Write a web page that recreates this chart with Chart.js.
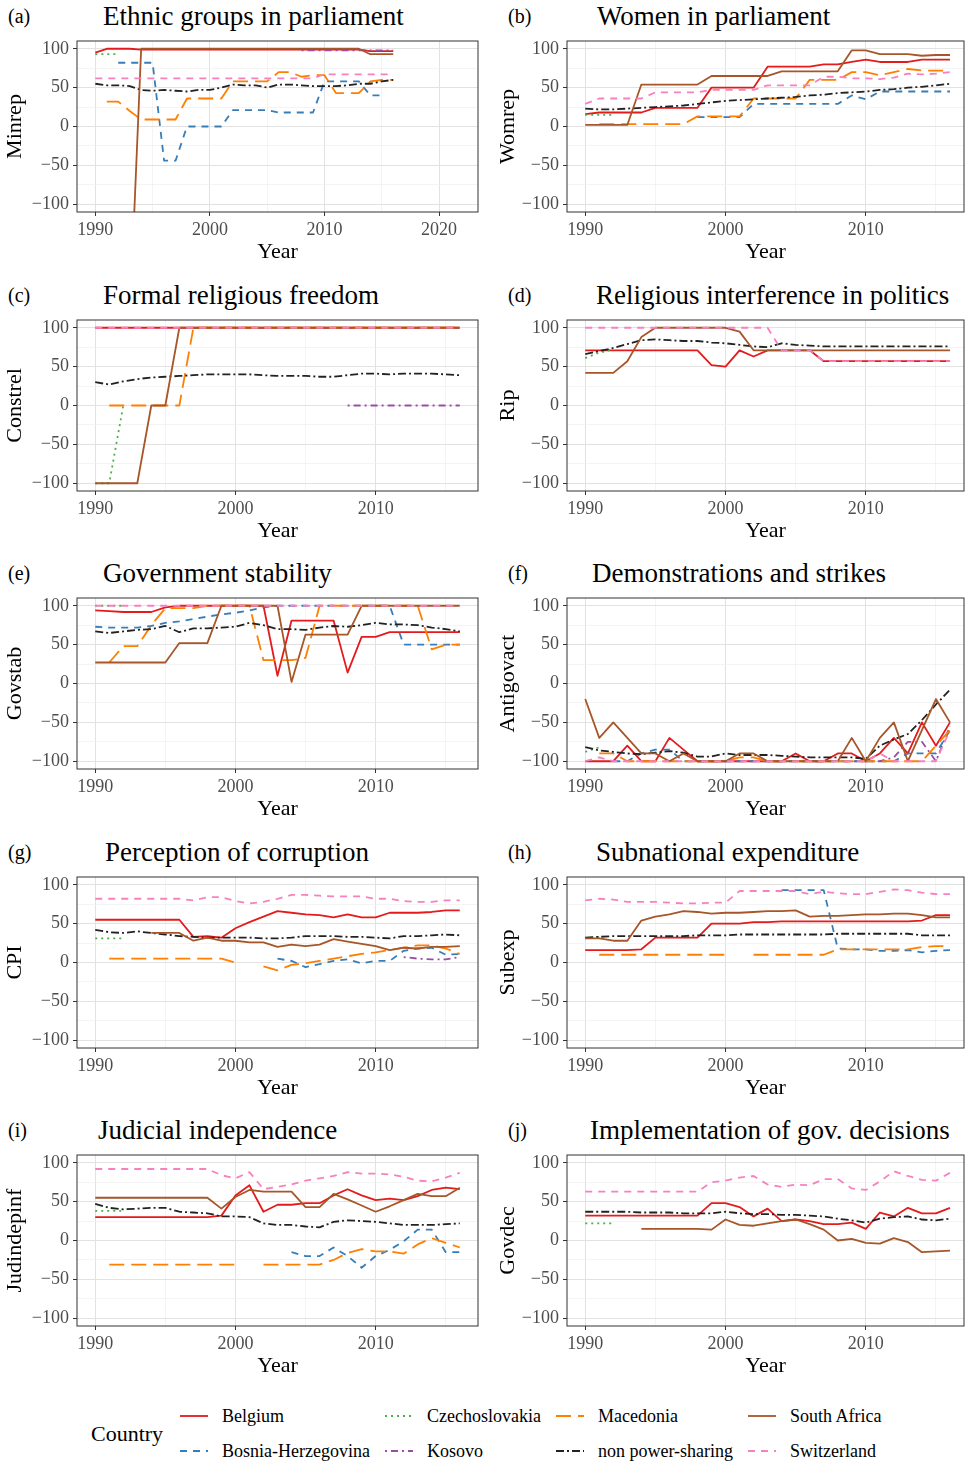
<!DOCTYPE html>
<html>
<head>
<meta charset="utf-8">
<title>Power-sharing indicators</title>
<script src="https://cdn.jsdelivr.net/npm/chart.js@4.4.1/dist/chart.umd.min.js"></script>
<style>
  body { margin: 0; background: #fff; }
  #page { position: relative; width: 967px; height: 1464px; font-family: 'Liberation Serif', 'Times New Roman', serif; color: #000; overflow: hidden; }
  .abs { position: absolute; white-space: nowrap; }
  .ptitle { font-size: 27px; line-height: 30px; }
  .pletter { font-size: 20px; line-height: 30px; }
  .leg { font-size: 18px; line-height: 22px; }
  canvas { position: absolute; }
</style>
</head>
<body>
<div id="page"></div>
<script>
const _ = null;

const years = [1990, 1991, 1992, 1993, 1994, 1995, 1996, 1997, 1998, 1999, 2000, 2001, 2002, 2003,
  2004, 2005, 2006, 2007, 2008, 2009, 2010, 2011, 2012, 2013, 2014, 2015, 2016];

const countries = ['Belgium', 'Bosnia-Herzegovina', 'Czechoslovakia', 'Kosovo', 'Macedonia',
  'non power-sharing', 'South Africa', 'Switzerland'];
const colors = ['#e41a1c', '#377eb8', '#4daf4a', '#984ea3', '#ff7f00', '#222222', '#a65628', '#f781bf'];
const dashes = [[], [7, 6], [2, 4], [2, 4, 7, 4], [15, 7], [8, 3, 2, 3], [], [7, 6]];

const yTicks = [-100, -75, -50, -25, 0, 25, 50, 75, 100];
const xTicks = [1990, 1995, 2000, 2005, 2010, 2015];
const xTicksWide = [1990, 1995, 2000, 2005, 2010, 2015, 2020];

// (a) Ethnic groups in parliament
const minrepBelgium = [95,100,100,100,99, 99,99,99,99,99, 99,99,99,99,99, 99,99,99,99,99, 99,99,99,99,97, 97,97];
const minrepBosnia = [_,_,82,82,82, 82,-44,-44,0,0, 0,0,21,21,21, 21,18,18,18,18, 58,58,58,58,40, 40,_];
const minrepCzech = [93,93,93,_,_, _,_,_,_,_, _,_,_,_,_, _,_,_,_,_, _,_,_,_,_, _,_];
const minrepKosovo = [_,_,_,_,_, _,_,_,_,_, _,_,_,_,_, _,_,_,98,98, 98,98,98,98,98, 98,98];
const minrepMacedonia = [_,32,32,20,9, 9,9,9,36,36, 36,36,58,58,58, 58,70,70,64,66, 66,43,43,43,58, 60,60];
const minrepNonPS = [55,53,53,52,47, 46,47,46,45,47, 47,50,54,53,53, 50,54,54,53,52, 52,52,53,55,55, 58,60];
const minrepSA = [_,_,_,-250,100, 100,100,100,100,100, 100,100,100,100,100, 100,100,100,100,100, 100,100,100,100,93, 93,93];
const minrepSwiss = [62,62,62,62,62, 62,62,62,62,62, 62,62,62,62,62, 62,62,62,62,62, 67,67,67,67,67, 67,67];

// (b) Women in parliament
const womBelgium = [16,18,18,18,18, 24,24,24,24,50, 50,50,50,77,77, 77,77,80,80,83, 86,83,83,83,86, 86,86];
const womBosnia = [_,_,_,_,_, _,_,_,12,12, 12,12,29,29,29, 29,29,29,29,40, 35,45,45,45,45, 45,45];
const womCzech = [15,15,15,_,_, _,_,_,_,_, _,_,_,_,_, _,_,_,_,_, _,_,_,_,_, _,_];
const womMacedonia = [_,3,3,3,3, 3,3,3,13,13, 13,13,36,36,36, 36,60,60,60,70, 70,66,70,74,72, 72,72];
const womNonPS = [23,22,22,23,24, 25,26,27,29,31, 33,34,35,36,37, 38,40,41,43,44, 45,47,48,50,51, 53,55];
const womSA = [2,2,2,2,54, 54,54,54,54,65, 65,65,65,65,71, 71,71,71,71,98, 98,93,93,93,91, 92,92];
const womSwiss = [29,36,36,36,36, 44,44,44,44,47, 47,47,47,53,53, 53,53,64,64,62, 62,61,63,68,67, 68,70];

// (c) Formal religious freedom
const conBelgium = [100,100,100,100,100, 100,100,100,100,100, 100,100,100,100,100, 100,100,100,100,100, 100,100,100,100,100, 100,100];
const conCzech = [-100,-100,0,_,_, _,_,_,_,_, _,_,_,_,_, _,_,_,_,_, _,_,_,_,_, _,_];
const conKosovo = [_,_,_,_,_, _,_,_,_,_, _,_,_,_,_, _,_,_,0,0, 0,0,0,0,0, 0,0];
const conMacedonia = [_,0,0,0,0, 0,0,100,100,100, 100,100,100,100,100, 100,100,100,100,100, 100,100,100,100,100, 100,100];
const conNonPS = [30,27,31,34,36, 37,38,39,40,40, 40,40,39,38,38, 38,37,37,39,41, 41,40,41,41,41, 40,39];
const conSA = [-100,-100,-100,-100,0, 0,100,100,100,100, 100,100,100,100,100, 100,100,100,100,100, 100,100,100,100,100, 100,100];
const conSwiss = [100,100,100,100,100, 100,100,100,100,100, 100,100,100,100,100, 100,100,100,100,100, 100,100,100,100,100, 100,100];

// (d) Religious interference in politics
const ripBelgium = [71,71,71,71,71, 71,71,71,71,52, 50,71,63,71,71, 71,71,57,57,57, 57,57,57,57,57, 57,57];
const ripCzech = [61,68,72,_,_, _,_,_,_,_, _,_,_,_,_, _,_,_,_,_, _,_,_,_,_, _,_];
const ripNonPS = [66,70,74,79,84, 85,84,83,83,81, 80,78,76,75,80, 78,77,76,76,76, 76,76,76,76,76, 76,76];
const ripSA = [42,42,42,57,88, 100,100,100,100,100, 100,95,71,71,71, 71,71,71,71,71, 71,71,71,71,71, 71,71];
const ripSwiss = [100,100,100,100,100, 100,100,100,100,100, 100,100,100,100,71, 71,71,57,57,57, 57,57,57,57,57, 57,57];

// (e) Government stability
const gsBelgium = [94,93,92,92,92, 98,100,100,100,100, 100,100,100,10,81, 81,81,81,14,60, 60,66,66,66,66, 66,66];
const gsBosnia = [73,72,72,72,74, 78,80,83,86,89, 91,94,98,100,100, 100,100,100,100,100, 100,100,50,50,50, 50,50];
const gsCzech = [100,100,100,_,_, _,_,_,_,_, _,_,_,_,_, _,_,_,_,_, _,_,_,_,_, _,_];
const gsMacedonia = [_,27,48,48,75, 97,97,97,100,100, 100,100,30,30,30, 33,100,100,100,100, 100,100,100,100,44, 50,50];
const gsNonPS = [67,65,67,69,70, 74,66,71,71,72, 73,78,75,70,70, 69,72,74,73,75, 78,76,76,75,72, 70,67];
const gsSA = [27,27,27,27,27, 27,52,52,52,100, 100,100,100,100,2, 63,63,63,63,100, 100,100,100,100,100, 100,100];
const gsSwiss = [100,100,100,100,100, 100,100,100,100,100, 100,100,100,100,100, 100,100,100,100,100, 100,100,100,100,100, 100,100];

// (f) Demonstrations and strikes
const agBelgium = [-100,-100,-100,-80,-100, -100,-70,-85,-100,-100, -100,-100,-100,-100,-100, -90,-100,-100,-90,-90, -100,-90,-70,-90,-50, -80,-50];
const agBosnia = [_,_,-100,-100,-90, -85,-85,-100,-100,-100, -100,-100,-100,-100,-100, -100,-100,-100,-100,-100, -100,-100,-100,-90,-90, -90,-60];
const agCzech = [-88,-82,_,_,_, _,_,_,_,_, _,_,_,_,_, _,_,_,_,_, _,_,_,_,_, _,_];
const agKosovo = [_,_,_,_,_, _,_,_,_,_, _,_,_,_,_, _,_,_,-100,-100, -100,-100,-95,-75,-75, -100,-55];
const agMacedonia = [_,-90,-90,-100,-100, -100,-100,-100,-100,-100, -100,-95,-95,-100,-100, -100,-100,-100,-100,-100, -100,-100,-100,-100,-100, -80,-60];
const agNonPS = [-82,-86,-88,-90,-91, -89,-87,-89,-94,-94, -90,-92,-92,-92,-93, -94,-95,-95,-95,-95, -97,-80,-72,-65,-47, -27,-8];
const agSA = [-20,-70,-50,-70,-90, -90,-100,-90,-100,-100, -100,-90,-90,-100,-100, -100,-100,-100,-100,-70, -100,-70,-50,-100,-60, -20,-50];
const agSwiss = [-100,-95,-100,-100,-100, -100,-100,-100,-100,-100, -100,-100,-100,-100,-100, -100,-100,-100,-100,-100, -100,-90,-100,-100,-100, -100,-60];

// (g) Perception of corruption
const cpiBelgium = [55,55,55,55,55, 55,55,33,34,32, 44,52,59,66,64, 62,61,58,62,58, 58,64,64,64,65, 67,67];
const cpiBosnia = [_,_,_,_,_, _,_,_,_,_, _,_,_,5,2, -6,-2,2,4,-1, 2,2,15,18,19, 10,11];
const cpiCzech = [31,31,31,_,_, _,_,_,_,_, _,_,_,_,_, _,_,_,_,_, _,_,_,_,_, _,_];
const cpiKosovo = [_,_,_,_,_, _,_,_,_,_, _,_,_,_,_, _,_,_,_,_, _,_,7,5,4, 4,7];
const cpiMacedonia = [_,5,5,5,5, 5,5,5,5,5, 0,_,-5,-10,-3, -1,2,5,8,11, 13,16,19,22,22, 18,11];
const cpiNonPS = [42,39,38,40,38, 36,34,33,32,32, 32,32,31,31,32, 34,34,34,33,33, 32,31,34,34,35, 36,35];
const cpiSA = [_,_,_,_,38, 38,38,28,32,28, 28,26,26,20,23, 21,23,30,27,24, 21,16,19,18,20, 20,21];
const cpiSwiss = [82,82,82,82,82, 82,82,80,84,84, 79,76,78,82,87, 87,86,85,85,85, 82,82,79,78,78, 80,80];

// (h) Subnational expenditure
const seBelgium = [16,16,16,16,17, 32,32,32,32,50, 50,50,52,52,53, 53,53,53,53,53, 53,53,53,53,54, 61,61];
const seBosnia = [_,_,_,_,_, _,_,_,_,_, _,_,_,_,93, 93,93,93,18,17, 17,15,15,16,13, 15,16];
const seCzech = [31,33,_,_,_, _,_,_,_,_, _,_,_,_,_, _,_,_,_,_, _,_,_,_,_, _,_];
const seMacedonia = [_,10,10,10,10, 10,10,10,10,10, 10,_,10,10,10, 10,10,10,17,17, 17,17,17,17,20, 21,21];
const seNonPS = [32,33,34,34,34, 34,34,34,35,35, 35,36,36,36,36, 36,36,36,37,37, 37,37,37,37,35, 35,35];
const seSA = [31,31,28,28,54, 59,62,66,65,63, 64,64,65,66,66, 67,59,60,60,61, 62,62,63,63,61, 58,58];
const seSwiss = [80,82,81,78,78, 78,77,76,76,77, 77,92,92,92,92, 92,88,91,89,88, 88,91,94,93,90, 88,88];

// (i) Judicial independence
const jiBelgium = [30,30,30,30,30, 30,30,30,30,32, 58,71,37,46,46, 48,48,58,66,58, 52,54,52,57,65, 68,66];
const jiBosnia = [_,_,_,_,_, _,_,_,_,_, _,_,_,_,-15, -20,-20,-9,-20,-35, -20,-12,-1,14,14, -15,-15];
const jiCzech = [38,38,38,_,_, _,_,_,_,_, _,_,_,_,_, _,_,_,_,_, _,_,_,_,_, _,_];
const jiMacedonia = [_,-31,-31,-31,-31, -31,-31,-31,-31,-31, -31,_,-31,-31,-31, -31,-31,-25,-16,-11, -14,-14,-17,-5,3, -3,-9];
const jiNonPS = [47,42,40,41,42, 42,37,36,35,31, 31,30,22,20,20, 18,17,24,26,25, 24,22,20,20,20, 21,22];
const jiSA = [55,55,55,55,55, 55,55,55,55,41, 56,65,63,63,63, 43,43,60,53,45, 37,44,52,60,57, 57,68];
const jiSwiss = [92,92,92,92,92, 92,92,92,92,84, 80,88,66,69,72, 77,80,83,88,86, 86,85,82,77,76, 81,87];

// (j) Implementation of gov. decisions
const gdBelgium = [32,32,32,32,32, 32,32,32,32,48, 48,43,31,41,25, 27,25,21,21,23, 15,36,31,42,35, 35,42];
const gdCzech = [22,22,22,_,_, _,_,_,_,_, _,_,_,_,_, _,_,_,_,_, _,_,_,_,_, _,_];
const gdNonPS = [37,37,37,37,36, 36,36,35,35,35, 37,35,34,34,33, 33,32,31,28,26, 23,28,30,31,27, 26,28];
const gdSA = [_,_,_,_,15, 15,15,15,15,14, 27,20,19,22,25, 27,21,14,0,2, -3,-4,3,-2,-15, -14,-13];
const gdSwiss = [63,63,63,63,63, 63,63,63,63,75, 77,81,83,72,69, 72,71,79,79,67, 65,76,89,83,78, 77,87];

// series order follows `countries`; null = country not shown in that panel
const panels = [
  { letter: '(a)', title: 'Ethnic groups in parliament', ylab: 'Minrep', col: 0, row: 0, titleX: 103, xmin: 1988.4, xmax: 2023.4, xt: xTicksWide,
    series: [minrepBelgium, minrepBosnia, minrepCzech, minrepKosovo, minrepMacedonia, minrepNonPS, minrepSA, minrepSwiss] },
  { letter: '(b)', title: 'Women in parliament', ylab: 'Womrep', col: 1, row: 0, titleX: 597,
    series: [womBelgium, womBosnia, womCzech, null, womMacedonia, womNonPS, womSA, womSwiss] },
  { letter: '(c)', title: 'Formal religious freedom', ylab: 'Constrel', col: 0, row: 1, titleX: 103,
    series: [conBelgium, null, conCzech, conKosovo, conMacedonia, conNonPS, conSA, conSwiss] },
  { letter: '(d)', title: 'Religious interference in politics', ylab: 'Rip', col: 1, row: 1, titleX: 596,
    series: [ripBelgium, null, ripCzech, null, null, ripNonPS, ripSA, ripSwiss] },
  { letter: '(e)', title: 'Government stability', ylab: 'Govstab', col: 0, row: 2, titleX: 103,
    series: [gsBelgium, gsBosnia, gsCzech, null, gsMacedonia, gsNonPS, gsSA, gsSwiss] },
  { letter: '(f)', title: 'Demonstrations and strikes', ylab: 'Antigovact', col: 1, row: 2, titleX: 592,
    series: [agBelgium, agBosnia, agCzech, agKosovo, agMacedonia, agNonPS, agSA, agSwiss] },
  { letter: '(g)', title: 'Perception of corruption', ylab: 'CPI', col: 0, row: 3, titleX: 105,
    series: [cpiBelgium, cpiBosnia, cpiCzech, cpiKosovo, cpiMacedonia, cpiNonPS, cpiSA, cpiSwiss] },
  { letter: '(h)', title: 'Subnational expenditure', ylab: 'Subexp', col: 1, row: 3, titleX: 596,
    series: [seBelgium, seBosnia, seCzech, null, seMacedonia, seNonPS, seSA, seSwiss] },
  { letter: '(i)', title: 'Judicial independence', ylab: 'Judindepinf', col: 0, row: 4, titleX: 98,
    series: [jiBelgium, jiBosnia, jiCzech, null, jiMacedonia, jiNonPS, jiSA, jiSwiss] },
  { letter: '(j)', title: 'Implementation of gov. decisions', ylab: 'Govdec', col: 1, row: 4, titleX: 590,
    series: [gdBelgium, null, gdCzech, null, null, gdNonPS, gdSA, gdSwiss] }
];

// layout
const FONT = "'Liberation Serif', 'Times New Roman', serif";
const rowTops = [41, 320, 598, 877, 1155];
const PLOT_H = 171, PAD_TOP = 16, X_AXIS_H = 53;
const cols = [
  { left: 0, width: 487, yw: 77, padR: 9, yTitlePad: 2, xmin: 1988.7, xmax: 2017.3, letterX: 8 },
  { left: 490, width: 477, yw: 77, padR: 3, yTitlePad: 5, xmin: 1988.7, xmax: 2017.0, letterX: 508 }
];

const page = document.getElementById('page');

function addText(cls, text, left, top) {
  const d = document.createElement('div');
  d.className = 'abs ' + cls;
  d.textContent = text;
  d.style.left = left + 'px';
  d.style.top = top + 'px';
  page.appendChild(d);
  return d;
}

const boxPlugin = {
  id: 'panelBox',
  afterDraw(chart) {
    const { ctx, chartArea: a } = chart;
    ctx.save();
    ctx.strokeStyle = '#333';
    ctx.lineWidth = 1;
    ctx.strokeRect(a.left, a.top, a.right - a.left, a.bottom - a.top);
    ctx.restore();
  }
};

const fmtNum = v => (v < 0 ? '\u2212' + (-v) : String(v));

function makePanel(p) {
  const col = cols[p.col];
  const plotTop = rowTops[p.row];
  const h = PAD_TOP + PLOT_H + X_AXIS_H;

  addText('pletter', p.letter, col.letterX, plotTop - 40);
  addText('ptitle', p.title, p.titleX, plotTop - 40);

  const canvas = document.createElement('canvas');
  canvas.width = col.width;
  canvas.height = h;
  canvas.style.left = col.left + 'px';
  canvas.style.top = (plotTop - PAD_TOP) + 'px';
  canvas.style.width = col.width + 'px';
  canvas.style.height = h + 'px';
  page.appendChild(canvas);

  const datasets = [];
  p.series.forEach((vals, i) => {
    if (!vals) return;
    datasets.push({
      label: countries[i],
      data: years.map((yr, j) => ({ x: yr, y: vals[j] })),
      borderColor: colors[i],
      borderDash: dashes[i],
      borderWidth: 1.8,
      borderJoinStyle: 'round',
      pointRadius: 0,
      pointHoverRadius: 0,
      tension: 0,
      spanGaps: false,
      fill: false,
      order: countries.length - i
    });
  });

  const xt = p.xt || xTicks;

  new Chart(canvas, {
    type: 'line',
    data: { datasets },
    options: {
      responsive: false,
      animation: false,
      events: [],
      layout: { padding: { top: PAD_TOP, right: col.padR, left: 0, bottom: 0 } },
      plugins: { legend: { display: false }, tooltip: { enabled: false } },
      scales: {
        x: {
          type: 'linear',
          min: p.xmin || col.xmin,
          max: p.xmax || col.xmax,
          afterBuildTicks: s => { s.ticks = xt.map(v => ({ value: v })); },
          afterFit: s => { s.height = X_AXIS_H; },
          border: { display: false },
          grid: {
            color: c => (c.tick && c.tick.value % 10 === 0 ? '#e2e2e2' : '#efefef'),
            lineWidth: c => (c.tick && c.tick.value % 10 === 0 ? 1 : 0.7),
            drawTicks: true,
            tickLength: 4,
            tickColor: c => (c.tick && c.tick.value % 10 === 0 ? '#333' : 'rgba(0,0,0,0)'),
            tickWidth: 1
          },
          ticks: {
            autoSkip: false, maxRotation: 0, padding: 3, color: '#4d4d4d',
            font: { family: FONT, size: 18 },
            callback: v => (v % 10 === 0 ? String(v) : '')
          },
          title: { display: true, text: 'Year', color: '#000', font: { family: FONT, size: 22 }, padding: 0 }
        },
        y: {
          min: -110,
          max: 110,
          afterBuildTicks: s => { s.ticks = yTicks.map(v => ({ value: v })); },
          afterFit: s => { s.width = col.yw; },
          border: { display: false },
          grid: {
            color: c => (c.tick && c.tick.value % 50 === 0 ? '#e2e2e2' : '#efefef'),
            lineWidth: c => (c.tick && c.tick.value % 50 === 0 ? 1 : 0.7),
            drawTicks: true,
            tickLength: 4,
            tickColor: c => (c.tick && c.tick.value % 50 === 0 ? '#333' : 'rgba(0,0,0,0)'),
            tickWidth: 1
          },
          ticks: {
            autoSkip: false, padding: 4, color: '#4d4d4d',
            font: { family: FONT, size: 18 },
            callback: v => (v % 50 === 0 ? fmtNum(v) : '')
          },
          title: { display: true, text: p.ylab, color: '#000', font: { family: FONT, size: 22 }, padding: { top: col.yTitlePad, bottom: 0 } }
        }
      }
    },
    plugins: [boxPlugin]
  });
}

panels.forEach(makePanel);

// ─── Legend ────────────────────────────────────────────────────────────────
const legendRows = [1416, 1451];
const legendCols = [{ key: 180, text: 222 }, { key: 385, text: 427 }, { key: 556, text: 598 }, { key: 748, text: 790 }];

const lt = addText('', 'Country', 91, 1421);
lt.style.fontSize = '22px';
lt.style.lineHeight = '26px';

countries.forEach((name, i) => {
  const c = legendCols[Math.floor(i / 2)];
  const y = legendRows[i % 2];
  const key = document.createElement('canvas');
  key.width = 28;
  key.height = 12;
  key.style.left = c.key + 'px';
  key.style.top = (y - 6) + 'px';
  page.appendChild(key);
  const kc = key.getContext('2d');
  kc.strokeStyle = colors[i];
  kc.lineWidth = 1.8;
  kc.setLineDash(dashes[i]);
  kc.beginPath();
  kc.moveTo(0, 6);
  kc.lineTo(28, 6);
  kc.stroke();
  addText('leg', name, c.text, y - 11);
});
</script>
</body>
</html>
